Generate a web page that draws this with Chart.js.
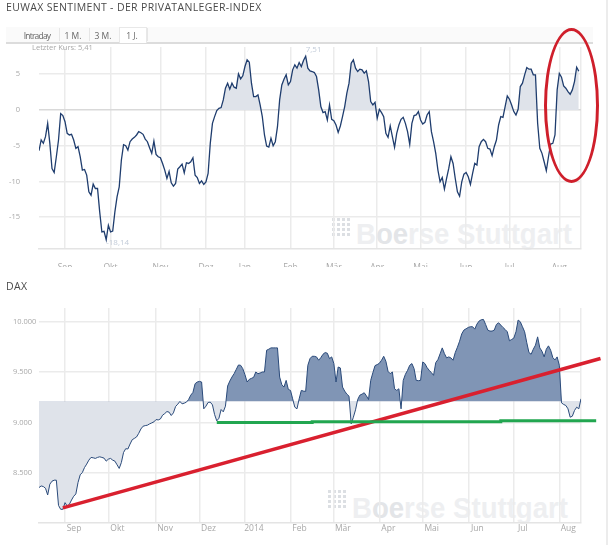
<!DOCTYPE html>
<html lang="de">
<head>
  <meta charset="UTF-8">
  <title>EUWAX Sentiment und DAX</title>
  <script src="https://cdn.jsdelivr.net/npm/chart.js"></script>
  <style>
    html, body { margin: 0; padding: 0; background: #fff; overflow: hidden; }
    body { position: relative; width: 608px; height: 545px; font-family: "Open Sans", sans-serif; color: #444; overflow: hidden; }
    canvas { position: absolute; left: 0; top: 0; }
    .frame { position: absolute; left: 0; width: 608px; overflow: hidden; z-index: 2; }
    .edge { position: absolute; left: 606px; top: 0; width: 2px; height: 545px; background: #ececec; }
    .title { position: absolute; left: 6px; font-size: 10.5px; letter-spacing: 0.35px; color: #4a4a4a; white-space: nowrap; z-index: 3; }
    .strip { position: absolute; left: 6px; top: 27px; width: 587px; height: 15px; background: #fafafa; border-bottom: 2px solid #dcdcdc; }
    .tab { position: absolute; top: 30px; font-size: 8.5px; color: #666; transform: translateX(-50%); z-index: 3; }
    .sep { position: absolute; top: 28px; width: 1px; height: 13px; background: #e6e6e6; }
    .active { position: absolute; left: 119px; top: 27px; width: 26px; height: 15px; background: #fff; border: 1px solid #e8e8e8; border-bottom: none; z-index: 2; }
    .last { position: absolute; left: 32px; top: 42px; font-size: 7.5px; color: #a8a8a8; z-index: 3; }
    .mark { position: absolute; z-index: 1; font: bold 29px "Liberation Sans", sans-serif; color: #eeeff1; white-space: nowrap; transform-origin: left top; transform: scaleX(0.95); }
    .mark b { color: #e3e5e8; }
    .dots { position: absolute; width: 20px; height: 20px; z-index: 1; background-image: radial-gradient(circle, #dcdfe3 1.6px, transparent 2px); background-size: 5px 5px; }
    .ring { position: absolute; left: 544px; top: 28px; width: 55px; height: 155px; box-sizing: border-box; border: 3px solid #cf1f2b; border-radius: 50%; z-index: 4; }
  </style>
</head>
<body>
<div class="edge"></div>

<div class="title" style="top:0px">EUWAX SENTIMENT - DER PRIVATANLEGER-INDEX</div>
<div class="strip"></div>
<div class="active"></div>
<div class="tab" style="left:37px;letter-spacing:-0.8px">Intraday</div>
<div class="sep" style="left:59px"></div>
<div class="tab" style="left:73px">1 M.</div>
<div class="sep" style="left:89px"></div>
<div class="tab" style="left:103px">3 M.</div>
<div class="tab" style="left:132px">1 J.</div>
<div class="sep" style="left:147px"></div>
<div class="last">Letzter Kurs: 5,41</div>

<div class="dots" style="left:331px;top:217px"></div>
<div class="mark" style="left:356px;top:218px">B<b>oe</b>rse Stuttgart</div>
<div class="frame" style="top:0;height:267px"><canvas id="sentimentChart" width="608" height="274"></canvas></div>

<div class="title" style="top:279px">DAX</div>
<div class="dots" style="left:327px;top:489px"></div>
<div class="mark" style="left:352px;top:492px">B<b>oe</b>rse Stuttgart</div>
<div class="frame" style="top:270px;height:275px"><canvas id="daxChart" width="608" height="278"></canvas></div>

<div class="ring"></div>

<script>
  const sentimentMonths = ['Sep', 'Okt', 'Nov', 'Dez', 'Jan', 'Feb', 'Mär', 'Apr', 'Mai', 'Jun', 'Jul', 'Aug', ''];
  const sentimentMonthDays = [12, 33, 56, 77, 95, 116, 136, 156, 176, 197, 217, 240, 250];
  const sentimentTicks = [-15, -10, -5, 0, 5];
  const sentimentValues = [
    -5.7, -4.2, -4.67, -3.74, -1.87, -4.67, -8.18, -8.74, -6.54, -4.2,
    -0.51, -0.79, -1.64, -3.27, -3.5, -3.41, -4.2, -5.37, -5.14, -6.54,
    -8.41, -8.32, -9.11, -11.45, -11.92, -10.37, -10.98, -10.98, -14.25, -17.06,
    -16.96, -18.14, -16.12, -17.06, -16.92, -14.25, -12.15, -10.75, -7.0, -4.86,
    -5.0, -5.61, -4.44, -4.07, -3.83, -3.5, -3.04, -3.18, -3.41, -4.07,
    -4.44, -5.28, -6.07, -4.35, -6.21, -6.54, -6.68, -7.48, -8.41, -9.58,
    -8.6, -10.19, -10.65, -10.28, -8.27, -7.94, -7.57, -8.79, -7.38, -7.48,
    -7.24, -6.68, -9.11, -9.44, -10.28, -9.91, -10.42, -10.05, -8.88, -4.67,
    -1.87, -0.93, -0.09, 0.23, 0.33, 1.4, 3.04, 3.74, 2.9, 3.74,
    3.18, 3.04, 5.05, 4.35, 4.77, 6.07, 7.01, 6.68, 3.74, 1.87,
    1.87, 2.1, 0.7, -0.93, -3.5, -5.05, -5.19, -3.97, -5.0, -4.44,
    -2.34, 1.4, 3.5, 4.3, 4.91, 3.5, 3.97, 5.61, 6.31, 5.84,
    6.64, 6.07, 6.92, 7.51, 5.84, 5.47, 5.37, 5.23, 4.67,
    2.8, 0.47, -0.37, -0.23, -1.4, 0.7, -1.31, -1.5, -2.1, -3.13,
    -2.24, -0.93, 0.47, 2.34, 3.74, 6.54, 7.01, 5.84, 5.37, 5.7,
    5.61, 5.14, 5.47, 3.97, 1.17, 0.7, 1.07, -1.17, 0.09, -0.37,
    -0.93, -3.27, -3.83, -2.24, -3.74, -5.23, -3.27, -2.1, -1.31, -1.03,
    -1.87, -3.04, -4.81, -1.87, -0.79, -0.7, -0.23, -1.4, -1.96, -1.73,
    -0.7, -0.23, -3.04, -4.44, -6.07, -8.41, -10.05, -9.44, -11.07, -9.58,
    -8.18, -6.54, -7.48, -9.58, -11.45, -12.06, -10.05, -8.97, -8.74, -9.35,
    -10.42, -8.88, -7.48, -7.71, -5.14, -4.44, -4.11, -4.44, -5.37, -5.47,
    -6.4, -5.14, -4.2, -2.1, -0.93, -1.03, 0.47, 1.96, 1.5, 0.7,
    -0.23, -0.7, 0.09, 3.27, 3.74, 4.91, 5.93, 5.7, 5.7,
    4.91, 4.91, -1.87, -5.37, -6.07, -7.24, -8.5, -6.54, -4.77, -4.67,
    -3.5, 2.8, 5.09, 4.58, 3.36, 3.04, 2.57, 2.2, 2.8, 3.97,
    5.98, 5.41
  ];

  const daxMonths = ['Sep', 'Okt', 'Nov', 'Dez', '2014', 'Feb', 'Mär', 'Apr', 'Mai', 'Jun', 'Jul', 'Aug', ''];
  const daxMonthDays = [12, 32, 54, 74, 95, 116, 136, 157, 177, 198, 219, 240, 250];
  const daxTicks = [8500, 9000, 9500, 10000];
  const daxValues = [
    8358, 8374, 8368, 8351, 8285, 8391, 8421, 8431, 8431, 8182,
    8143, 8143, 8209, 8176, 8192, 8235, 8272, 8295, 8408, 8484,
    8507, 8556, 8590, 8629, 8656, 8652, 8646, 8656, 8662, 8656,
    8649, 8619, 8639, 8646, 8629, 8619, 8583, 8547, 8606, 8705,
    8742, 8739, 8788, 8831, 8844, 8858, 8894, 8937, 8964, 8970,
    8974, 8987, 8997, 9007, 9030, 9026, 9036, 9073, 9089, 9109,
    9103, 9070, 9096, 9159, 9182, 9209, 9185, 9192, 9202, 9228,
    9271, 9298, 9384, 9401, 9407, 9401, 9136, 9162, 9199, 9202,
    9175, 9079, 9017, 9043, 9129, 9106, 9162, 9361, 9410, 9450,
    9483, 9526, 9569, 9566, 9533, 9473, 9401, 9427, 9437, 9447,
    9500, 9483, 9490, 9500, 9500, 9715, 9725, 9738, 9738, 9738,
    9738, 9450, 9374, 9351, 9417, 9328, 9318, 9235, 9152, 9136,
    9235, 9318, 9311, 9308, 9566, 9632, 9655, 9655, 9649, 9616,
    9642, 9675, 9692, 9685, 9632, 9649, 9583, 9401, 9549, 9540,
    9351, 9311, 9281, 9261, 8987, 9053, 9126, 9228, 9271, 9281,
    9295, 9265, 9228, 9417, 9493, 9563, 9573, 9586, 9616, 9655,
    9606, 9506, 9483, 9500, 9334, 9318, 9334, 9136, 9417, 9477,
    9516, 9566, 9583, 9533, 9417, 9414, 9417, 9599, 9583, 9543,
    9516, 9493, 9467, 9592, 9622, 9679, 9738, 9682, 9639, 9649,
    9639, 9616, 9692, 9745, 9804, 9877, 9914, 9927, 9940, 9947,
    9947, 9923, 9973, 10003, 10016, 10019, 9970, 9914, 9904, 9904,
    9914, 9970, 9986, 9963, 9940, 9920, 9897, 9808, 9821, 9834,
    9897, 10013, 9996, 9947, 9897, 9788, 9692, 9675, 9725, 9765,
    9847, 9738, 9705, 9649, 9725, 9758, 9715, 9642, 9619, 9649,
    9566, 9195, 9179, 9169, 9136, 9053, 9063, 9119, 9152, 9136,
    9235
  ];
  const daxThreshold = 9208;

  const redLineDays = [11, 259];
  const redLineValues = [8157, 9633];
  const greenLineDays = [82, 126, 126, 213, 213, 257];
  const greenLineValues = [9002, 9002, 9009, 9009, 9019, 9019];

  const toPoints = (days, values) => values.map((v, i) => ({ x: days ? days[i] : i, y: v }));
  const germanNumber = v => v.toLocaleString('de-DE');
  const gridColor = '#ebebeb';
  const labelColor = '#a8a8a8';

  // small value labels at the lowest and highest point of the first line
  const peakLabels = {
    id: 'peakLabels',
    afterDatasetsDraw(chart) {
      const { ctx, scales } = chart;
      const low = Math.min(...sentimentValues);
      const high = Math.max(...sentimentValues);
      ctx.save();
      ctx.font = '8px "Open Sans"';
      ctx.fillStyle = '#c3ccd9';
      ctx.textBaseline = 'middle';
      ctx.fillText(low.toFixed(2).replace('.', ','), scales.x.getPixelForValue(sentimentValues.indexOf(low)), scales.y.getPixelForValue(low) + 3.5);
      ctx.fillText(high.toFixed(2).replace('.', ','), scales.x.getPixelForValue(sentimentValues.indexOf(high)), scales.y.getPixelForValue(high) - 7);
      ctx.restore();
    }
  };

  function chartOptions(cfg) {
    return {
      responsive: false,
      animation: false,
      layout: { padding: { top: cfg.top, right: 27, left: cfg.left } },
      plugins: { legend: { display: false }, tooltip: { enabled: false } },
      elements: { point: { radius: 0 }, line: { tension: 0 } },
      scales: {
        x: {
          type: 'linear',
          min: 0,
          max: 250,
          afterBuildTicks: axis => { axis.ticks = cfg.monthDays.map(d => ({ value: d })); },
          afterFit: axis => { axis.height = cfg.axisHeight; },
          grid: { color: gridColor, lineWidth: 1.5, drawTicks: false },
          border: { color: '#e4e4e4', width: 1.5 },
          ticks: {
            autoSkip: false,
            maxRotation: 0,
            padding: cfg.labelPadding,
            labelOffset: cfg.labelOffset,
            color: labelColor,
            font: { family: 'Open Sans', size: 8.5 },
            callback: (value, index) => cfg.months[index]
          }
        },
        y: {
          min: cfg.min,
          max: cfg.max,
          afterBuildTicks: axis => { axis.ticks = cfg.ticks.map(v => ({ value: v })); },
          afterFit: axis => { axis.width = cfg.axisWidth; },
          grid: { color: cfg.lineColor || gridColor, lineWidth: 1.5, drawTicks: false },
          border: { display: false },
          ticks: {
            padding: cfg.tickPadding,
            crossAlign: cfg.crossAlign,
            color: labelColor,
            font: { family: 'Open Sans', size: 7.5 },
            callback: cfg.format
          }
        }
      }
    };
  }

  new Chart(document.getElementById('sentimentChart'), {
    type: 'line',
    data: {
      datasets: [{
        data: toPoints(null, sentimentValues),
        borderColor: '#1f3d6e',
        borderWidth: 1.3,
        fill: { target: { value: 0 }, above: '#dfe3ea', below: 'rgba(0, 0, 0, 0)' }
      }]
    },
    options: chartOptions({
      top: 47, left: 0, min: -19.44, max: 8.8, ticks: sentimentTicks,
      months: sentimentMonths, monthDays: sentimentMonthDays,
      axisHeight: 25, axisWidth: 39, labelPadding: 13, labelOffset: 0,
      tickPadding: 19, crossAlign: 'near',
      lineColor: ctx => ctx.tick && ctx.tick.value === 0 ? '#d9d9d9' : gridColor,
      format: v => String(v)
    }),
    plugins: [peakLabels]
  });

  new Chart(document.getElementById('daxChart'), {
    type: 'line',
    data: {
      datasets: [
        { data: toPoints(greenLineDays, greenLineValues), borderColor: '#22a650', borderWidth: 3, clip: false, fill: false },
        { data: toPoints(redLineDays, redLineValues), borderColor: '#d9202f', borderWidth: 3.5, clip: false, fill: false },
        {
          data: toPoints(null, daxValues),
          borderColor: '#2a4a7a',
          borderWidth: 1,
          fill: { target: { value: daxThreshold }, above: '#8095b5', below: '#dfe3ea' }
        }
      ]
    },
    options: chartOptions({
      top: 38, left: 13, min: 8008, max: 10132, ticks: daxTicks,
      months: daxMonths, monthDays: daxMonthDays,
      axisHeight: 25, axisWidth: 26, labelPadding: 0, labelOffset: 9,
      tickPadding: 0, crossAlign: 'far', format: germanNumber
    })
  });
</script>
</body>
</html>
